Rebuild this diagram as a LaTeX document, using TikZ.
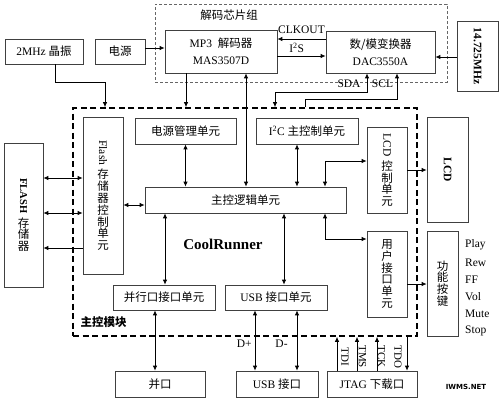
\documentclass[tikz,border=0pt]{standalone}
\usepackage{fontspec}
\setmainfont{Liberation Serif}
\newfontfamily\cjk{Noto Sans CJK SC}
\newfontfamily\wmfont{DejaVu Sans}
\usetikzlibrary{arrows.meta}
\newcommand\zhs[1]{{\cjk #1}}
\begin{document}
\begin{tikzpicture}[x=1pt,y=-1pt,
  box/.style={draw=black!75, line width=0.7pt, inner sep=0pt, align=center, font=\fontsize{11.5}{17}\selectfont},
  vbox/.style={box, font=\fontsize{11.5}{11.8}\selectfont},
  grp/.style={draw=black!60, line width=0.8pt, dash pattern=on 3pt off 2pt, inner sep=0pt},
  mainst/.style={draw=black, line width=1.6pt, dash pattern=on 6pt off 3.5pt, inner sep=0pt},
  conn/.style={line width=0.8pt, black},
  onearrow/.style={conn, -{Latex[length=5pt,width=4.5pt]}},
  twoarrow/.style={conn, {Latex[length=5pt,width=4.5pt]}-{Latex[length=5pt,width=4.5pt]}},
  lbl/.style={font=\fontsize{11.5}{13}\selectfont, inner sep=0pt},
  vlbl/.style={font=\fontsize{11}{13}\selectfont, inner sep=0pt, rotate=-90},
]
\useasboundingbox (0,0) rectangle (500,400);
\fill[white] (0,0) rectangle (500,400);

% decoder group
\node[grp, minimum width=292pt, minimum height=78pt] (grp) at (301,43) {};
\node[lbl] (grptitle) at (229,15) {\zhs{解码芯片组}};
\node[box, minimum width=112pt, minimum height=43pt] (mp3) at (221,51.5) {MP3\ \ \zhs{解码器}\\MAS3507D};
\node[box, minimum width=109pt, minimum height=42pt] (dac) at (380.5,52) {\zhs{数/模变换器}\\DAC3550A};
\node[box, minimum width=41pt, minimum height=70pt] (xtal) at (477.5,56) {\rotatebox[origin=c]{-90}{\bfseries 14.725MHz}};
\node[box, minimum width=78pt, minimum height=25pt] (osc) at (44,51.5) {2MHz \zhs{晶振}};
\node[box, minimum width=50pt, minimum height=25pt] (pwr) at (120,51.5) {\zhs{电源}};

% main module
\node[mainst, minimum width=344pt, minimum height=228pt] (mainbox) at (245,222) {};
\node[lbl, font=\fontsize{11.5}{13}\selectfont\cjk\bfseries] (maintitle) at (103.5,322) {主控模块};
\node[lbl, font=\fontsize{15}{17}\selectfont\bfseries] (cool) at (223,244) {CoolRunner};

\node[vbox, minimum width=40pt, minimum height=157pt] (flashctl) at (103,195.5)
  {\rotatebox[origin=c]{-90}{Flash}\\[3pt]\zhs{存}\\\zhs{储}\\\zhs{器}\\\zhs{控}\\\zhs{制}\\\zhs{单}\\\zhs{元}};
\node[box, minimum width=101pt, minimum height=26pt] (pmu) at (185.5,131) {\zhs{电源管理单元}};
\node[box, minimum width=102pt, minimum height=26pt] (i2c) at (307,131) {I\textsuperscript{2}C \zhs{主控制单元}};
\node[vbox, minimum width=40pt, minimum height=86pt] (lcdctl) at (387,170)
  {\rotatebox[origin=c]{-90}{LCD}\\[3pt]\zhs{控}\\\zhs{制}\\\zhs{单}\\\zhs{元}};
\node[box, minimum width=201pt, minimum height=26pt] (logic) at (245.5,200) {\zhs{主控逻辑单元}};
\node[vbox, minimum width=40pt, minimum height=86pt] (ui) at (387,274)
  {\zhs{用}\\\zhs{户}\\\zhs{接}\\\zhs{口}\\\zhs{单}\\\zhs{元}};
\node[box, minimum width=102pt, minimum height=25pt] (par) at (164,297.5) {\zhs{并行口接口单元}};
\node[box, minimum width=102pt, minimum height=25pt] (usbu) at (276,297.5) {USB \zhs{接口单元}};

% outside
\node[vbox, minimum width=39pt, minimum height=144pt] (flash) at (23.5,215)
  {\rotatebox[origin=c]{-90}{\bfseries\fontsize{10.5}{12}\selectfont FLASH}\\[3pt]\zhs{存}\\\zhs{储}\\\zhs{器}};
\node[box, minimum width=41pt, minimum height=105pt] (lcd) at (447.5,169.5) {\rotatebox[origin=c]{-90}{\bfseries LCD}};
\node[vbox, minimum width=31pt, minimum height=105pt] (keys) at (442.5,283.5)
  {\zhs{功}\\\zhs{能}\\\zhs{按}\\\zhs{键}};
\node[lbl, anchor=west] (kplay) at (465,245) {Play};
\node[lbl, anchor=west] (krew) at (465,262.5) {Rew};
\node[lbl, anchor=west] (kff) at (465,280) {FF};
\node[lbl, anchor=west] (kvol) at (465,297) {Vol};
\node[lbl, anchor=west] (kmute) at (465,314) {Mute};
\node[lbl, anchor=west] (kstop) at (465,331) {Stop};

\node[box, minimum width=90pt, minimum height=26pt] (pport) at (160,384) {\zhs{并口}};
\node[box, minimum width=82pt, minimum height=26pt] (usbp) at (277,384) {USB \zhs{接口}};
\node[box, minimum width=90pt, minimum height=26pt] (jtag) at (372,384) {JTAG \zhs{下载口}};

\node[font=\wmfont\bfseries\fontsize{7}{8}\selectfont, inner sep=0pt] (wm) at (466,387) {IWMS.NET};

% connectors: top
\draw[onearrow] ([yshift=3.5pt]pwr.east) -- ([yshift=3.5pt]pwr.east -| mp3.west);
\draw[onearrow] ([xshift=11pt]osc.south) -- ++(0,18) -| ([xshift=-140pt]mainbox.north);
\draw[onearrow] ([xshift=-35pt]mp3.south) -- ([xshift=-35pt]mp3.south |- mainbox.north);
\draw[twoarrow] ([xshift=25pt]mp3.south) -- ([xshift=25pt]mp3.south |- logic.north);
\draw[onearrow] ([yshift=13pt]dac.west) -- node[lbl, above=5pt]{CLKOUT} ([yshift=13pt]dac.west -| mp3.east);
\draw[onearrow] ([yshift=-4.5pt]mp3.east) -- node[lbl, above=3pt, pos=0.4]{I\textsuperscript{2}S} ([yshift=-4.5pt]mp3.east -| dac.west);
\draw[onearrow] ([yshift=-1pt]xtal.west) -- ([yshift=-1pt]xtal.west -| dac.east);
\draw[twoarrow] ([xshift=30pt]mainbox.north) -- ++(0,-15) -| ([xshift=-13.5pt]dac.south);
\draw[onearrow] ([xshift=60pt]mainbox.north) -- ++(0,-8) -| ([xshift=16.5pt]dac.south);
\node[lbl] (sdalbl) at ([xshift=-31.5pt,yshift=-10pt]dac.south) {SDA};
\node[lbl] (scllbl) at ([xshift=2pt,yshift=-10pt]dac.south) {SCL};

% inside
\draw[twoarrow] (pmu.south) -- (pmu.south |- logic.north);
\draw[twoarrow] ([xshift=-10pt]i2c.south) -- ([xshift=-10pt]i2c.south |- logic.north);
\draw[twoarrow] ([xshift=79.5pt]logic.north) |- ([yshift=9pt]lcdctl.west);
\draw[twoarrow] ([xshift=79.5pt]logic.south) |- ([yshift=35pt]ui.west);
\draw[twoarrow] ([yshift=-5pt]logic.west) -- ([yshift=-5pt]logic.west -| flashctl.east);
\draw[twoarrow] ([xshift=1pt]par.north |- logic.south) -- ([xshift=1pt]par.north);
\draw[twoarrow] ([xshift=8pt]usbu.north |- logic.south) -- ([xshift=8pt]usbu.north);

% left / right
\draw[twoarrow] ([yshift=37pt]flash.east) -- ([yshift=37pt]flash.east -| flashctl.west);
\draw[twoarrow] ([yshift=2pt]flash.east) -- ([yshift=2pt]flash.east -| flashctl.west);
\draw[onearrow] ([yshift=-33pt]flash.east -| flashctl.west) -- ([yshift=-33pt]flash.east);
\draw[onearrow] (lcdctl.east) -- (lcdctl.east -| lcd.west);
\draw[onearrow] ([yshift=-10pt]ui.east) -- ([yshift=-10pt]ui.east -| keys.west);

% bottom
\draw[twoarrow] ([xshift=-9pt]par.south) -- ([xshift=-9pt]par.south |- pport.north);
\draw[twoarrow] ([xshift=-21pt]usbu.south) -- node[lbl, left=3pt, pos=0.55]{D+} ([xshift=-21pt]usbu.south |- usbp.north);
\draw[twoarrow] ([xshift=21pt]usbu.south) -- node[lbl, left=9pt, pos=0.55]{D-} ([xshift=21pt]usbu.south |- usbp.north);
\draw[onearrow] ([xshift=-35pt]jtag.north) -- ([xshift=-35pt]jtag.north |- mainbox.south);
\draw[onearrow] ([xshift=-15pt]jtag.north) -- ([xshift=-15pt]jtag.north |- mainbox.south);
\draw[onearrow] ([xshift=5pt]jtag.north) -- ([xshift=5pt]jtag.north |- mainbox.south);
\draw[onearrow] ([xshift=35pt]jtag.north |- mainbox.south) -- ([xshift=35pt]jtag.north);
\node[vlbl] (tdi) at ([xshift=-27pt,yshift=14pt]jtag.north) {TDI};
\node[vlbl] (tms) at ([xshift=-9.5pt,yshift=14pt]jtag.north) {TMS};
\node[vlbl] (tck) at ([xshift=9.5pt,yshift=14pt]jtag.north) {TCK};
\node[vlbl] (tdo) at ([xshift=26pt,yshift=14pt]jtag.north) {TDO};
\end{tikzpicture}
\end{document}
